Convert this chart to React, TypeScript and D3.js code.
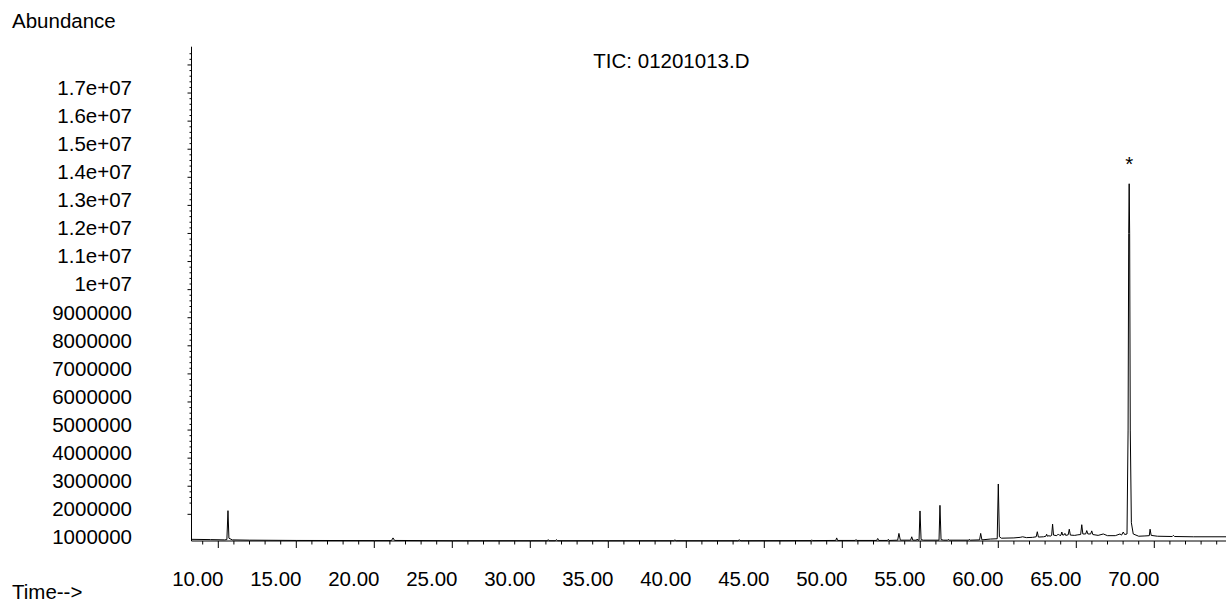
import React from "react";
import * as d3 from "d3";

// Total ion chromatogram trace: [retention time (min), abundance]
const TRACE: [number, number][] = [
  [8.25, 1.11e6], [9.5, 1.1e6], [10.4, 1.09e6], [10.55, 1.1e6], [10.62, 2.13e6], [10.68, 1.15e6],
  [10.9, 1.09e6], [12, 1.08e6], [15, 1.07e6], [20, 1.065e6],
  [21.1, 1.065e6], [21.2, 1.16e6], [21.3, 1.07e6], [25, 1.06e6], [30, 1.06e6],
  [31.1, 1.06e6], [31.15, 1.1e6], [31.2, 1.06e6], [31.6, 1.06e6], [31.68, 1.1e6], [31.75, 1.06e6],
  [35, 1.06e6], [39.2, 1.06e6], [39.27, 1.09e6], [39.35, 1.06e6],
  [43.3, 1.06e6], [43.4, 1.09e6], [43.5, 1.06e6],
  [48, 1.065e6], [48.04, 1.09e6], [48.1, 1.065e6],
  [49.58, 1.07e6], [49.64, 1.16e6], [49.7, 1.07e6],
  [50.82, 1.07e6], [50.88, 1.1e6], [50.94, 1.07e6],
  [52.2, 1.07e6], [52.27, 1.14e6], [52.34, 1.07e6],
  [52.9, 1.07e6], [52.95, 1.11e6], [53.0, 1.07e6],
  [53.55, 1.08e6], [53.63, 1.32e6], [53.72, 1.08e6],
  [54.38, 1.08e6], [54.45, 1.2e6], [54.52, 1.08e6],
  [54.76, 1.08e6], [54.8, 1.12e6], [54.84, 1.08e6],
  [54.92, 1.08e6], [54.98, 2.12e6], [55.05, 1.1e6], [55.2, 1.08e6],
  [56.2, 1.08e6], [56.26, 2.32e6], [56.33, 1.1e6], [56.5, 1.08e6],
  [56.75, 1.08e6], [56.8, 1.11e6], [56.85, 1.08e6],
  [58.1, 1.08e6], [58.14, 1.11e6], [58.2, 1.08e6],
  [58.8, 1.09e6], [58.87, 1.32e6], [58.95, 1.09e6],
  [59.5, 1.12e6],
  [59.93, 1.13e6], [60.0, 3.08e6], [60.07, 1.2e6], [60.2, 1.15e6],
  [61, 1.16e6], [61.4, 1.18e6], [61.56, 1.2e6], [61.8, 1.17e6],
  [62.2, 1.18e6], [62.43, 1.2e6], [62.5, 1.38e6], [62.57, 1.19e6],
  [62.9, 1.2e6], [63.05, 1.22e6], [63.1, 1.29e6], [63.15, 1.22e6], [63.25, 1.24e6], [63.32, 1.22e6],
  [63.42, 1.25e6], [63.48, 1.65e6], [63.54, 1.26e6],
  [63.75, 1.24e6], [63.85, 1.3e6], [63.95, 1.24e6],
  [64.02, 1.26e6], [64.07, 1.37e6], [64.13, 1.26e6],
  [64.22, 1.27e6], [64.27, 1.32e6], [64.32, 1.25e6],
  [64.48, 1.27e6], [64.55, 1.47e6], [64.62, 1.26e6],
  [64.9, 1.25e6], [65.1, 1.27e6],
  [65.28, 1.28e6], [65.35, 1.63e6], [65.42, 1.3e6],
  [65.6, 1.3e6], [65.67, 1.42e6], [65.74, 1.3e6],
  [65.92, 1.3e6], [65.99, 1.41e6], [66.06, 1.28e6],
  [66.4, 1.25e6], [66.73, 1.3e6], [67.0, 1.24e6], [67.5, 1.24e6], [67.8, 1.3e6], [67.9, 1.26e6],
  [68.01, 1.37e6], [68.1, 1.28e6],
  [68.25, 1.3e6], [68.32, 5e6], [68.36, 1.2e7], [68.39, 1.377e7], [68.42, 1.2e7], [68.46, 5e6],
  [68.53, 1.7e6], [68.65, 1.3e6],
  [69.0, 1.22e6], [69.4, 1.23e6], [69.68, 1.24e6], [69.73, 1.47e6], [69.8, 1.25e6], [70.2, 1.22e6],
  [71.15, 1.21e6], [71.22, 1.25e6], [71.3, 1.21e6],
  [72.5, 1.2e6], [74.6, 1.2e6],
];

// Marked peak (asterisk above its apex)
const MARKED_PEAK: [number, number] = [68.39, 1.377e7];

const X_DOMAIN: [number, number] = [8.25, 74.6];
const Y_DOMAIN: [number, number] = [1.05e6, 1.865e7];

const X_MAJOR_TICKS = [10, 15, 20, 25, 30, 35, 40, 45, 50, 55, 60, 65, 70];
const Y_LABEL_TICKS = [
  1e6, 2e6, 3e6, 4e6, 5e6, 6e6, 7e6, 8e6, 9e6, 1e7, 1.1e7, 1.2e7, 1.3e7, 1.4e7, 1.5e7, 1.6e7, 1.7e7,
];

const TITLE = "TIC: 01201013.D";

const FONT = "'Liberation Sans', Arial, sans-serif";
const FS = 20.5;

function formatAbundance(v: number): string {
  if (v < 1e7) return String(v);
  const [m, e] = v.toExponential().split("e");
  const sign = e[0];
  const digits = e.slice(1).padStart(2, "0");
  return `${m}e${sign}${digits}`;
}

export default function App() {
  const width = 1226;
  const height = 606;
  const left = 191.5;
  const right = 1226;
  const top = 46.7;
  const bottom = 541;

  const x = d3.scaleLinear().domain(X_DOMAIN).range([218.3 - (10 - X_DOMAIN[0]) * 15.6, right]);
  // keep 10 min at 218.3 and 15.6 px per minute
  x.domain(X_DOMAIN).range([218.3 - (10 - X_DOMAIN[0]) * 15.6, 218.3 + (X_DOMAIN[1] - 10) * 15.6]);
  const y = d3.scaleLinear().domain(Y_DOMAIN).range([bottom, top]);

  const minorX = d3.range(Math.ceil(X_DOMAIN[0]), Math.floor(X_DOMAIN[1]) + 1).filter((t) => t % 5 !== 0);
  const minorY = d3
    .range(12, 93)
    .map((k) => k * 2e5)
    .filter((v) => v >= Y_DOMAIN[0] && v <= Y_DOMAIN[1] && Math.round(v / 2e5) % 5 !== 0);
  const majorY = d3
    .range(1, 19)
    .map((k) => k * 1e6)
    .filter((v) => v >= Y_DOMAIN[0] && v <= Y_DOMAIN[1]);

  const line = d3
    .line<[number, number]>()
    .x((d) => x(d[0]))
    .y((d) => y(d[1]));

  return (
    <svg
      width={width}
      height={height}
      style={{ position: "absolute", left: 0, top: 0, background: "#fff" }}
      fontFamily={FONT}
      fontSize={FS}
    >
      <rect width={width} height={height} fill="#fff" />
      <text x={12} y={28.3} fill="#000">Abundance</text>
      <text x={12} y={599.3} fill="#000">Time--&gt;</text>
      <text x={671.4} y={68.3} textAnchor="middle" fill="#000">{TITLE}</text>

      {/* Y axis */}
      <line x1={left} x2={left} y1={top} y2={bottom} stroke="#000" strokeWidth={1} />
      {majorY.map((v) => (
        <line key={`ym${v}`} x1={left - 4} x2={left} y1={y(v)} y2={y(v)} stroke="#000" strokeWidth={1} />
      ))}
      {minorY.map((v) => (
        <line key={`yn${v}`} x1={left - 2} x2={left} y1={y(v)} y2={y(v)} stroke="#000" strokeWidth={1} />
      ))}
      {Y_LABEL_TICKS.map((v) => (
        <text key={`yl${v}`} x={132} y={y(v) + 1.8} textAnchor="end" fill="#000">
          {formatAbundance(v)}
        </text>
      ))}

      {/* X axis */}
      <line x1={left} x2={right} y1={bottom} y2={bottom} stroke="#000" strokeWidth={1} />
      {X_MAJOR_TICKS.map((t) => (
        <line key={`xm${t}`} x1={x(t)} x2={x(t)} y1={bottom} y2={bottom + 7} stroke="#000" strokeWidth={1} />
      ))}
      {minorX.map((t) => (
        <line key={`xn${t}`} x1={x(t)} x2={x(t)} y1={bottom} y2={bottom + 3.5} stroke="#000" strokeWidth={1} />
      ))}
      {X_MAJOR_TICKS.map((t) => (
        <text key={`xl${t}`} x={x(t) - 20.5} y={586} textAnchor="middle" fill="#000">
          {t.toFixed(2)}
        </text>
      ))}

      {/* Chromatogram */}
      <path d={line(TRACE) ?? ""} fill="none" stroke="#000" strokeWidth={1} strokeLinejoin="miter" />
      <text x={x(MARKED_PEAK[0])} y={y(MARKED_PEAK[1]) - 12.6} textAnchor="middle" fill="#000">
        *
      </text>
    </svg>
  );
}
